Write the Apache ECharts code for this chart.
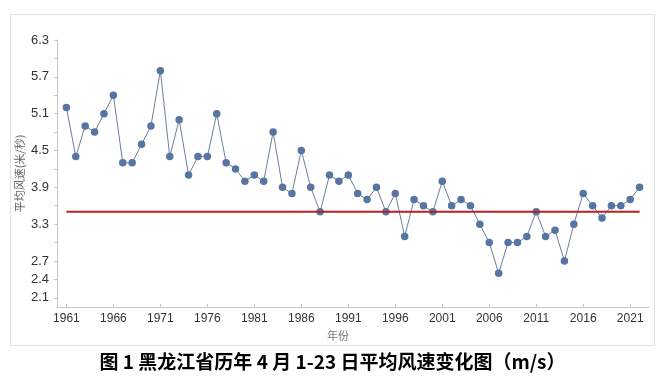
<!DOCTYPE html>
<html>
<head>
<meta charset="utf-8">
<script src="https://cdn.jsdelivr.net/npm/echarts@6/dist/echarts.min.js"></script>
<style>html,body{margin:0;padding:0;background:#fff;}#c{width:665px;height:389px;}</style>
</head>
<body>
<div id="c"></div>
<script>
var years = [];
for (var y = 1961; y <= 2022; y++) years.push(y);
var windSpeed = [
  5.2, 4.4, 4.9, 4.8, 5.1, 5.4, 4.3, 4.3, 4.6, 4.9,
  5.8, 4.4, 5.0, 4.1, 4.4, 4.4, 5.1, 4.3, 4.2, 4.0,
  4.1, 4.0, 4.8, 3.9, 3.8, 4.5, 3.9, 3.5, 4.1, 4.0,
  4.1, 3.8, 3.7, 3.9, 3.5, 3.8, 3.1, 3.7, 3.6, 3.5,
  4.0, 3.6, 3.7, 3.6, 3.3, 3.0, 2.5, 3.0, 3.0, 3.1,
  3.5, 3.1, 3.2, 2.7, 3.3, 3.8, 3.6, 3.4, 3.6, 3.6,
  3.7, 3.9
];
var referenceValue = 3.5;
var refStart = 1961, refEnd = 2022;
var yTicks = [2.1, 2.4, 2.7, 3.0, 3.3, 3.6, 3.9, 4.2, 4.5, 4.8, 5.1, 5.4, 5.7, 6.0, 6.3];
var yLabels = [2.1, 2.4, 2.7, 3.3, 3.9, 4.5, 5.1, 5.7, 6.3];
var xLabels = [1961, 1966, 1971, 1976, 1981, 1986, 1991, 1996, 2001, 2006, 2011, 2016, 2021];
var titleText = '图 1 黑龙江省历年 4 月 1-23 日平均风速变化图（m/s）';
var yName = '平均风速(米/秒)';
var xName = '年份';

var chart = echarts.init(document.getElementById('c'), null, {renderer: 'canvas'});
var lineData = years.map(function (yr, i) { return [yr, windSpeed[i]]; });
chart.setOption({
  animation: false,
  backgroundColor: '#fff',
  textStyle: {fontFamily: 'Liberation Sans, Arial, sans-serif'},
  graphic: [
    {type: 'rect', shape: {x: 10.5, y: 14.5, width: 644, height: 331},
     style: {fill: 'none', stroke: '#e2e2e2', lineWidth: 1}, z: -1},
    {type: 'text', left: 'center', top: 352,
     style: {text: titleText, fill: '#000', font: 'bold 19px "Noto Sans CJK SC", sans-serif'}}
  ],
  grid: {left: 57, right: 16, top: 40, bottom: 82, containLabel: false},
  xAxis: {
    type: 'value', min: 1960, max: 2023,
    name: xName, nameLocation: 'middle', nameGap: 23,
    nameTextStyle: {color: '#777', fontSize: 11, fontFamily: 'Noto Sans CJK SC', padding: [0, 30, 0, 0]},
    axisLine: {lineStyle: {color: '#c8c8c8', width: 1}},
    axisTick: {show: true, inside: true, length: 3, lineStyle: {color: '#c8c8c8'}, customValues: xLabels},
    axisLabel: {color: '#333', fontSize: 12, margin: 6, customValues: xLabels,
      formatter: function (v) { return String(v); }},
    splitLine: {show: false}
  },
  yAxis: {
    type: 'value', min: 1.95, max: 6.3,
    name: yName, nameLocation: 'middle', nameGap: 32, nameRotate: 90,
    nameMoveOverlap: false,
    nameTextStyle: {color: '#666', fontSize: 11, fontFamily: 'Noto Sans CJK SC'},
    axisLine: {show: true, lineStyle: {color: '#c8c8c8', width: 1}},
    axisTick: {show: true, length: 3, lineStyle: {color: '#c8c8c8'}, customValues: yTicks},
    axisLabel: {color: '#333', fontSize: 13, margin: 8, customValues: yLabels,
      formatter: function (v) { return v.toFixed(1); }},
    splitLine: {show: false}
  },
  series: [
    {
      type: 'line', data: lineData, z: 2,
      symbol: 'circle', symbolSize: 7.5,
      lineStyle: {color: '#6a7e99', width: 1},
      itemStyle: {color: '#5675a0'}
    },
    {
      type: 'line', data: [[refStart, referenceValue], [refEnd, referenceValue]], z: 3,
      symbol: 'none',
      lineStyle: {color: '#b8201f', width: 2},
      silent: true
    }
  ]
});
</script>
</body>
</html>
